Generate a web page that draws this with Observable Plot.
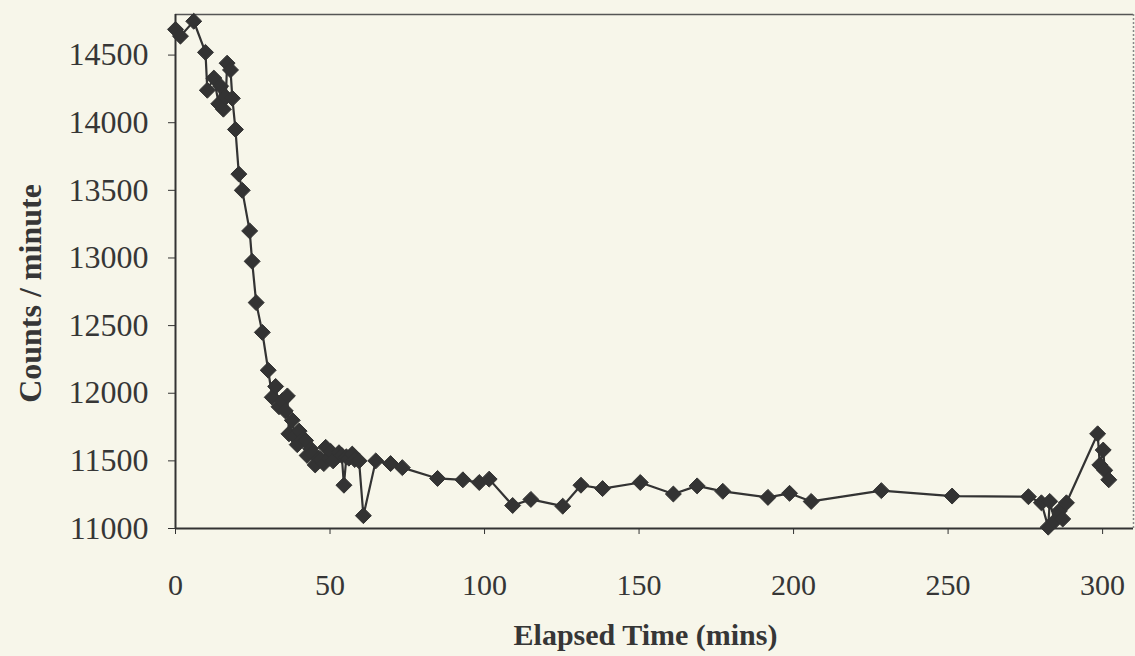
<!DOCTYPE html>
<html>
<head>
<meta charset="utf-8">
<script src="https://cdn.jsdelivr.net/npm/d3@7"></script>
<script src="https://cdn.jsdelivr.net/npm/@observablehq/plot@0.6"></script>
<style>
  html, body { margin: 0; padding: 0; background: #f7f6ea; }
  #chart svg { background: #f7f6ea; display: block; }
</style>
</head>
<body>
<div id="chart"></div>
<script>
// Elapsed time (mins)
const times = [0, 1.6, 5.9, 9.7, 10.3, 12.4, 14.0, 14.6, 15.5, 16.3, 16.7, 17.8, 18.4, 19.4,
  20.5, 21.6, 24.0, 24.8, 26.1, 28.1, 30.0, 31.3, 32.4, 33.5, 34.6, 35.5, 36.2, 36.7, 37.8,
  38.5, 39.4, 40.0, 41.0, 42.1, 42.6, 43.7, 44.3, 45.2, 46.4, 47.0, 48.0, 48.6, 49.7, 50.2,
  51.0, 52.9, 53.8, 54.5, 55.3, 56.1, 57.2, 58.0, 59.4, 60.8, 64.8, 69.6, 73.4, 84.8, 93.0,
  98.3, 101.5, 109.1, 115.0, 125.3, 131.2, 138.2, 150.4, 161.1, 168.8, 177.1, 191.7, 198.7,
  205.7, 228.4, 251.3, 276.0, 280.2, 282.4, 282.9, 284.5, 286.0, 287.1, 288.3, 298.4, 299.1,
  300.2, 300.7, 302.0];
// Counts / minute
const counts = [14690, 14640, 14750, 14520, 14240, 14330, 14140, 14270, 14100, 14190, 14440, 14390, 14180, 13950,
  13620, 13500, 13200, 12975, 12670, 12450, 12170, 11970, 12050, 11900, 11945, 11870, 11980, 11700, 11800,
  11680, 11620, 11720, 11660, 11650, 11540, 11590, 11560, 11470, 11520, 11510, 11480, 11600, 11520, 11570,
  11500, 11560, 11540, 11320, 11530, 11520, 11550, 11510, 11500, 11095, 11500, 11480, 11450, 11370, 11360,
  11340, 11365, 11170, 11215, 11165, 11320, 11295, 11340, 11255, 11315, 11275, 11230, 11260,
  11200, 11280, 11240, 11235, 11190, 11010, 11200, 11055, 11130, 11070, 11190, 11700, 11470,
  11580, 11430, 11360];
const xTicks = [0, 50, 100, 150, 200, 250, 300];
const yTicks = [11000, 11500, 12000, 12500, 13000, 13500, 14000, 14500];
const xLabel = "Elapsed Time (mins)";
const yLabel = "Counts / minute";

const data = times.map((t, i) => ({t, c: counts[i]}));
const ink = "#333333";
const textInk = "#363636";

const chart = Plot.plot({
  width: 1135,
  height: 656,
  marginLeft: 175,
  marginRight: 2,
  marginTop: 14,
  marginBottom: 128,
  style: {fontFamily: "'Liberation Serif', 'Times New Roman', serif", fontSize: "30px", color: textInk, background: "#f7f6ea"},
  x: {domain: [0, 310]},
  y: {domain: [11000, 14800]},
  marks: [
    Plot.ruleY([14800], {stroke: "#555", strokeWidth: 1.5}),
    Plot.ruleX([310], {stroke: "#888", strokeWidth: 1.5, strokeDasharray: "2,2"}),
    Plot.axisX({ticks: xTicks, tickFormat: d => String(d), tickSize: 6, tickPadding: 39, label: null, stroke: ink, fontSize: 30}),
    Plot.axisY({ticks: yTicks, tickFormat: d => String(d), tickSize: 7, tickPadding: 20, label: null, stroke: ink, fontSize: 32}),
    Plot.ruleY([11000], {stroke: ink, strokeWidth: 2}),
    Plot.ruleX([0], {stroke: ink, strokeWidth: 2}),
    Plot.line(data, {x: "t", y: "c", stroke: ink, strokeWidth: 2.2}),
    Plot.dot(data, {x: "t", y: "c", symbol: "diamond2", r: 7.2, fill: ink, stroke: ink, strokeWidth: 1}),
    Plot.text([xLabel], {frameAnchor: "bottom", dx: -9, dy: 116, text: d => d, fontWeight: "bold", fontSize: 30, fill: textInk}),
    Plot.text([yLabel], {frameAnchor: "left", dx: -145, dy: 22, rotate: -90, textAnchor: "middle", text: d => d, fontWeight: "bold", fontSize: 32, fill: textInk})
  ]
});
document.getElementById("chart").appendChild(chart);
</script>
</body>
</html>
